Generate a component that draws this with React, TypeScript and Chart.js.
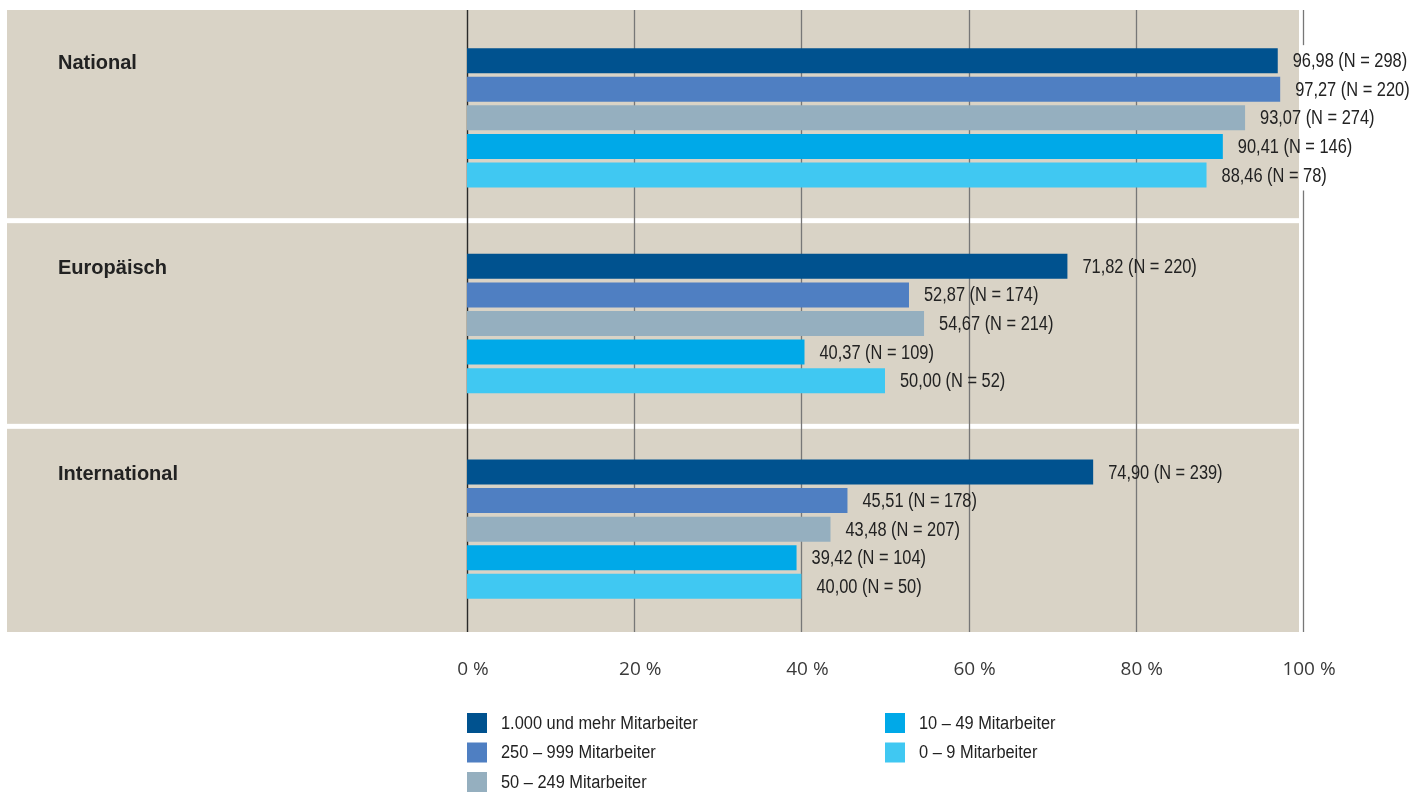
import React, { useEffect, useRef } from "react";
import { Chart, registerables } from "chart.js";

Chart.register(...registerables);

const categories = ["National", "Europäisch", "International"];
const seriesLabels = [
  "1.000 und mehr Mitarbeiter",
  "250 – 999 Mitarbeiter",
  "50 – 249 Mitarbeiter",
  "10 – 49 Mitarbeiter",
  "0 – 9 Mitarbeiter",
];
const seriesColors = ["#00528f", "#4f7fc2", "#95afbf", "#00a9e8", "#40c8f2"];

const values1000plus = [96.98, 71.82, 74.9];
const values250to999 = [97.27, 52.87, 45.51];
const values50to249 = [93.07, 54.67, 43.48];
const values10to49 = [90.41, 40.37, 39.42];
const values0to9 = [88.46, 50.0, 40.0];

const n1000plus = [298, 220, 239];
const n250to999 = [220, 174, 178];
const n50to249 = [274, 214, 207];
const n10to49 = [146, 109, 104];
const n0to9 = [78, 52, 50];

const xTicks = [0, 20, 40, 60, 80, 100];

const seriesValues = [values1000plus, values250to999, values50to249, values10to49, values0to9];
const seriesN = [n1000plus, n250to999, n50to249, n10to49, n0to9];

const PANEL = "#d9d3c6";
const SANS = "'Liberation Sans', Arial, sans-serif";

const fmt = (v: number) => v.toFixed(2).replace(".", ",");

function drawCondensed(ctx: any, text: string, x: number, y: number, sx: number) {
  ctx.save();
  ctx.translate(x, y);
  ctx.scale(sx, 1);
  ctx.fillText(text, 0, 0);
  ctx.restore();
}

const decorPlugin = {
  id: "decor",
  beforeDraw(chart: any) {
    const { ctx, chartArea, scales } = chart;
    const x = scales.x;
    const band = (chartArea.bottom - chartArea.top) / categories.length;
    const left = 7;
    const right = x.getPixelForValue(100) - 4;
    ctx.save();
    ctx.fillStyle = PANEL;
    categories.forEach((_, i) => {
      const top = chartArea.top + band * i + (i === 0 ? -5 : 2.5);
      const bottom = chartArea.top + band * (i + 1) - (i === categories.length - 1 ? 0 : 2.5);
      ctx.fillRect(left, top, right - left, bottom - top);
    });
    xTicks.forEach((t) => {
      const px = Math.round(x.getPixelForValue(t)) + 0.5;
      ctx.strokeStyle = t === 0 ? "#2a2a2a" : "#777777";
      ctx.lineWidth = t === 0 ? 1.4 : 1.3;
      ctx.beginPath();
      ctx.moveTo(px, chartArea.top - 5);
      ctx.lineTo(px, chartArea.bottom);
      ctx.stroke();
    });
    ctx.fillStyle = "#222222";
    ctx.font = "bold 20px " + SANS;
    ctx.textBaseline = "middle";
    ctx.textAlign = "left";
    categories.forEach((c, i) => {
      ctx.fillText(c, left + 51, chartArea.top + band * i + 48);
    });
    ctx.restore();
  },
  afterDatasetsDraw(chart: any) {
    const { ctx, scales } = chart;
    const panelRight = scales.x.getPixelForValue(100) - 4;
    const sx = 0.82;
    ctx.save();
    ctx.font = "20px " + SANS;
    ctx.textBaseline = "middle";
    ctx.textAlign = "left";
    chart.data.datasets.forEach((ds: any, d: number) => {
      const meta = chart.getDatasetMeta(d);
      meta.data.forEach((el: any, i: number) => {
        const text = fmt(ds.data[i]) + " (N = " + seriesN[d][i] + ")";
        const tx = el.x + 15;
        const w = ctx.measureText(text).width * sx;
        if (tx + w > panelRight) {
          const rx = Math.max(tx - 2, panelRight);
          ctx.fillStyle = "#ffffff";
          ctx.fillRect(rx, el.y - el.height / 2 - 3, tx + w + 3 - rx, el.height + 6);
        }
        ctx.fillStyle = "#222222";
        drawCondensed(ctx, text, tx, el.y + 1, sx);
      });
    });
    ctx.restore();
  },
  afterDraw(chart: any) {
    const { ctx, chartArea, scales } = chart;
    const x = scales.x;
    const cols = [x.getPixelForValue(0), x.getPixelForValue(50)];
    const rowsPerCol = 3;
    const top0 = chartArea.bottom + 81;
    const pitch = 29.5;
    ctx.save();
    ctx.font = "18px " + SANS;
    ctx.textBaseline = "middle";
    ctx.textAlign = "left";
    chart.data.datasets.forEach((ds: any, d: number) => {
      const col = Math.floor(d / rowsPerCol);
      const row = d % rowsPerCol;
      const bx = cols[col];
      const by = top0 + row * pitch;
      ctx.fillStyle = ds.backgroundColor;
      ctx.fillRect(bx, by, 20, 20);
      ctx.fillStyle = "#222222";
      drawCondensed(ctx, ds.label, bx + 34, by + 11, 0.91);
    });
    ctx.restore();
  },
};

export default function App() {
  const ref = useRef<HTMLCanvasElement | null>(null);
  useEffect(() => {
    if (!ref.current) return;
    const chart = new Chart(ref.current, {
      type: "bar",
      data: {
        labels: categories,
        datasets: seriesLabels.map((label, d) => ({
          label,
          data: seriesValues[d],
          backgroundColor: seriesColors[d],
          borderWidth: 0,
          categoryPercentage: 0.695,
          barPercentage: 0.875,
        })),
      },
      options: {
        indexAxis: "y",
        responsive: false,
        animation: false,
        layout: { padding: { top: 15, left: 467, right: 113, bottom: 0 } },
        plugins: { legend: { display: false }, tooltip: { enabled: false } },
        scales: {
          y: { display: false },
          x: {
            min: 0,
            max: 100,
            afterFit: (scale: any) => {
              scale.height = 160;
            },
            afterBuildTicks: (scale: any) => {
              scale.ticks = xTicks.map((v) => ({ value: v }));
            },
            grid: { display: false, drawTicks: false },
            border: { display: false },
            ticks: {
              padding: 26,
              labelOffset: 6,
              color: "#3a3a3a",
              font: { family: "'Open Sans', sans-serif", size: 19 },
              callback: (v: any) => v + " %",
              maxRotation: 0,
            },
          },
        },
      },
      plugins: [decorPlugin],
    });
    return () => chart.destroy();
  }, []);
  return (
    <div style={{ position: "absolute", left: 0, top: 0, width: 1416, height: 792, background: "#fff" }}>
      <canvas ref={ref} width={1416} height={792} style={{ display: "block" }} />
    </div>
  );
}
